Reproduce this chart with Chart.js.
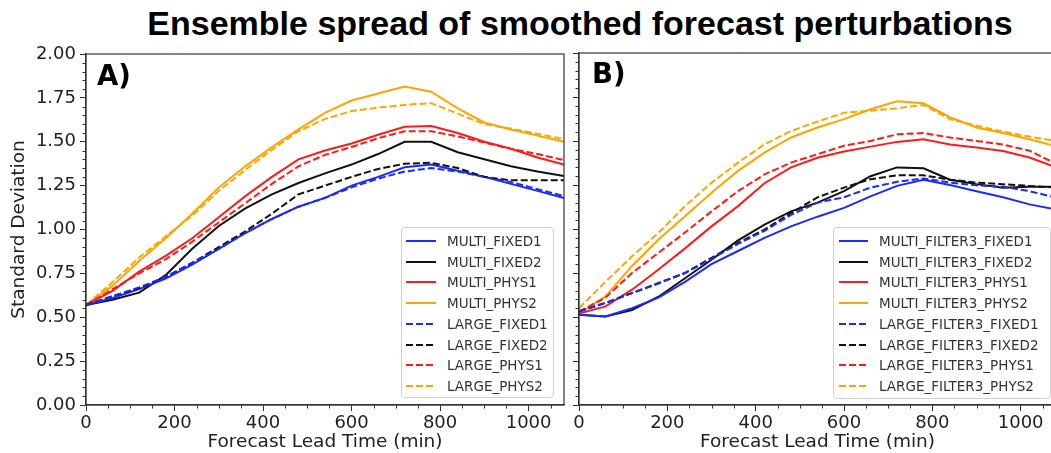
<!DOCTYPE html>
<html><head><meta charset="utf-8">
<script src="https://cdn.jsdelivr.net/npm/chart.js@4"></script>
<style>
html,body{margin:0;padding:0;width:1051px;height:453px;overflow:hidden;background:#fff;}
#title{position:absolute;left:80px;width:1000px;top:6px;text-align:center;font:bold 34px "Liberation Sans",Arial,sans-serif;line-height:34px;color:#000;white-space:nowrap;}
.wrap{position:absolute;top:0;}
.legend{position:absolute;border:1px solid #d0d0d0;border-radius:4px;background:rgba(255,255,255,0.85);font:13.5px "DejaVu Sans",sans-serif;color:#333;box-sizing:border-box;}
.legend .row{position:absolute;height:20px;line-height:20px;white-space:nowrap;}
.legend svg{position:absolute;top:0;}
</style></head><body>
<div id="title">Ensemble spread of smoothed forecast perturbations</div>
<div class="wrap" style="left:0;width:570px;height:453px"><canvas id="cA" width="570" height="453"></canvas></div>
<div class="wrap" style="left:570px;width:490px;height:453px"><canvas id="cB" width="490" height="453"></canvas></div>
<div id="legA" class="legend"></div>
<div id="legB" class="legend"></div>
<script>
// ---- data ----
const times = [0,60,120,180,240,300,360,420,480,540,600,660,720,780,840,900,960,1020,1080];
const xTickValues = [0,200,400,600,800,1000];
const yTickValues = [0,0.25,0.5,0.75,1.0,1.25,1.5,1.75,2.0];

const labelsA = ['MULTI_FIXED1','MULTI_FIXED2','MULTI_PHYS1','MULTI_PHYS2','LARGE_FIXED1','LARGE_FIXED2','LARGE_PHYS1','LARGE_PHYS2'];
const labelsB = ['MULTI_FILTER3_FIXED1','MULTI_FILTER3_FIXED2','MULTI_FILTER3_PHYS1','MULTI_FILTER3_PHYS2','LARGE_FILTER3_FIXED1','LARGE_FILTER3_FIXED2','LARGE_FILTER3_PHYS1','LARGE_FILTER3_PHYS2'];

// Panel A
const multiFixed1A = [0.57,0.61,0.66,0.72,0.80,0.89,0.98,1.06,1.13,1.18,1.25,1.30,1.355,1.37,1.335,1.30,1.26,1.22,1.18];
const multiFixed2A = [0.57,0.60,0.64,0.74,0.89,1.02,1.12,1.20,1.265,1.32,1.37,1.43,1.50,1.50,1.44,1.40,1.36,1.33,1.305];
const multiPhys1A  = [0.57,0.65,0.76,0.85,0.95,1.07,1.19,1.30,1.40,1.45,1.49,1.54,1.585,1.59,1.55,1.50,1.46,1.41,1.37];
const multiPhys2A  = [0.57,0.68,0.82,0.95,1.09,1.24,1.36,1.47,1.57,1.665,1.735,1.775,1.815,1.785,1.69,1.61,1.57,1.535,1.50];
const largeFixed1A = [0.57,0.62,0.67,0.73,0.81,0.89,0.98,1.06,1.13,1.18,1.24,1.29,1.33,1.35,1.33,1.30,1.27,1.23,1.19];
const largeFixed2A = [0.57,0.62,0.665,0.73,0.81,0.90,0.99,1.09,1.20,1.25,1.30,1.345,1.375,1.38,1.35,1.30,1.28,1.28,1.28];
const largePhys1A  = [0.57,0.66,0.75,0.83,0.93,1.04,1.15,1.26,1.36,1.425,1.47,1.52,1.56,1.56,1.53,1.495,1.46,1.43,1.395];
const largePhys2A  = [0.57,0.70,0.84,0.96,1.08,1.22,1.34,1.455,1.56,1.63,1.675,1.695,1.71,1.72,1.66,1.60,1.575,1.545,1.515];

// Panel B
const multiFixed1B = [0.513,0.503,0.55,0.61,0.70,0.80,0.875,0.95,1.015,1.07,1.12,1.185,1.245,1.28,1.25,1.215,1.18,1.14,1.11];
const multiFixed2B = [0.513,0.503,0.54,0.615,0.72,0.825,0.935,1.025,1.10,1.15,1.215,1.30,1.35,1.345,1.28,1.255,1.235,1.24,1.24];
const multiPhys1B  = [0.52,0.56,0.655,0.77,0.89,1.015,1.13,1.26,1.35,1.405,1.44,1.468,1.495,1.51,1.48,1.463,1.443,1.406,1.35];
const multiPhys2B  = [0.52,0.617,0.79,0.94,1.073,1.206,1.33,1.434,1.52,1.577,1.624,1.68,1.726,1.714,1.635,1.577,1.545,1.51,1.47];
const largeFixed1B = [0.532,0.58,0.636,0.69,0.75,0.83,0.915,0.99,1.08,1.15,1.18,1.235,1.268,1.287,1.264,1.248,1.24,1.215,1.178];
const largeFixed2B = [0.532,0.58,0.636,0.693,0.75,0.836,0.921,0.997,1.09,1.18,1.235,1.283,1.305,1.305,1.28,1.264,1.254,1.245,1.235];
const largePhys1B  = [0.53,0.61,0.75,0.865,0.98,1.10,1.215,1.31,1.377,1.425,1.473,1.50,1.538,1.545,1.52,1.50,1.48,1.445,1.37];
const largePhys2B  = [0.55,0.70,0.845,0.978,1.13,1.263,1.377,1.481,1.557,1.61,1.66,1.672,1.686,1.705,1.624,1.587,1.553,1.525,1.50];

// ---- styles ----
const colors = ['#1a2bff','#111111','#ff1a1a','#ffa500','#1a2bff','#111111','#ff1a1a','#ffa500'];
const DASH = [7,3];

function makeDatasets(labels, series) {
  return series.map((s, i) => ({
    label: labels[i],
    data: s.map((v, j) => ({x: times[j], y: v})),
    borderColor: colors[i],
    backgroundColor: colors[i],
    borderWidth: 2,
    borderDash: i >= 4 ? DASH : [],
    pointRadius: 0,
    tension: 0,
    fill: false,
    order: i >= 4 ? 0 : 1
  }));
}

function framePlugin(letter, lx, ly) {
  return {
    id: 'frame',
    afterDraw(chart) {
      const {ctx, chartArea: a, scales: {x, y}} = chart;
      ctx.save();
      ctx.strokeStyle = '#333'; ctx.lineWidth = 1.2;
      ctx.strokeRect(a.left, a.top, a.right - a.left, a.bottom - a.top);
      ctx.lineWidth = 1;
      ctx.beginPath();
      for (let k = 0; k <= 40; k++) {
        if (k % 5 === 0) continue;
        const py = Math.round(y.getPixelForValue(k * 0.05)) + 0.5;
        ctx.moveTo(a.left - 3.5, py); ctx.lineTo(a.left, py);
      }
      for (let k = 0; k <= 21; k++) {
        if (k % 4 === 0) continue;
        const px = Math.round(x.getPixelForValue(k * 50)) + 0.5;
        ctx.moveTo(px, a.bottom); ctx.lineTo(px, a.bottom + 3.5);
      }
      ctx.stroke();
      ctx.font = 'bold 27.5px "DejaVu Sans"';
      ctx.fillStyle = '#000';
      ctx.textBaseline = 'alphabetic';
      ctx.fillText(letter, a.left + lx, a.top + ly);
      ctx.restore();
    }
  };
}

function makeChart(id, labels, series, cfg) {
  return new Chart(document.getElementById(id), {
    type: 'line',
    data: { datasets: makeDatasets(labels, series) },
    options: {
      responsive: false,
      animation: false,
      devicePixelRatio: 1,
      layout: { padding: { left: 0, right: cfg.padRight, top: cfg.padTop, bottom: 0 } },
      plugins: { legend: { display: false }, tooltip: { enabled: false } },
      scales: {
        x: {
          type: 'linear', min: 0, max: 1080,
          afterBuildTicks: s => { s.ticks = xTickValues.map(v => ({value: v})); },
          afterFit: s => { s.height = 48; },
          ticks: { autoSkip: false, maxRotation: 0, padding: 2, color: '#222',
                   font: { family: 'DejaVu Sans', size: 18 },
                   callback: v => String(v) },
          grid: { drawOnChartArea: false, drawTicks: true, tickLength: 6, tickColor: '#333', tickWidth: 1 },
          border: { display: true, color: '#333', width: 1.2 },
          title: { display: true, text: 'Forecast Lead Time (min)', color: '#222',
                   font: { family: 'DejaVu Sans', size: 18.5 }, padding: { top: 0, bottom: 0 } }
        },
        y: {
          type: 'linear', min: 0, max: 2,
          afterBuildTicks: s => { s.ticks = yTickValues.map(v => ({value: v})); },
          afterFit: s => { s.width = cfg.yWidth; },
          ticks: { autoSkip: false, padding: 4, color: '#222',
                   font: { family: 'DejaVu Sans', size: 18 },
                   callback: v => cfg.yLabels ? v.toFixed(2) : '' },
          grid: { drawOnChartArea: false, drawTicks: true, tickLength: 6, tickColor: '#333', tickWidth: 1 },
          border: { display: true, color: '#333', width: 1.2 },
          title: { display: cfg.yLabels, text: 'Standard Deviation', color: '#222',
                   font: { family: 'DejaVu Sans', size: 18.5 }, padding: { top: 8, bottom: 0 } }
        }
      }
    },
    plugins: [framePlugin(cfg.letter, cfg.lx, cfg.ly)]
  });
}

const chartA = makeChart('cA', labelsA,
  [multiFixed1A, multiFixed2A, multiPhys1A, multiPhys2A, largeFixed1A, largeFixed2A, largePhys1A, largePhys2A],
  { padRight: 6, padTop: 54, yWidth: 86, yLabels: true, letter: 'A)', lx: 11, ly: 31 });
const chartB = makeChart('cB', labelsB,
  [multiFixed1B, multiFixed2B, multiPhys1B, multiPhys2B, largeFixed1B, largeFixed2B, largePhys1B, largePhys2B],
  { padRight: 4, padTop: 53, yWidth: 9, yLabels: false, letter: 'B)', lx: 13, ly: 30 });

function buildLegend(elId, chart, box, sampleX, sampleW, textX) {
  const el = document.getElementById(elId);
  el.style.left = box.left + 'px'; el.style.top = box.top + 'px';
  el.style.width = box.width + 'px'; el.style.height = box.height + 'px';
  chart.data.datasets.forEach((ds, i) => {
    const row = document.createElement('div');
    row.className = 'row';
    row.style.top = (box.rowTop + i * 20.7) + 'px';
    row.style.left = '0px';
    row.style.width = box.width + 'px';
    const dash = ds.borderDash.length ? ds.borderDash.join(',') : 'none';
    row.innerHTML = '<svg width="' + (sampleW + 2) + '" height="20" style="left:' + sampleX + 'px">' +
      '<line x1="0" y1="10" x2="' + sampleW + '" y2="10" stroke="' + ds.borderColor + '" stroke-width="2" stroke-dasharray="' + dash + '"/></svg>' +
      '<span style="position:absolute;left:' + textX + 'px">' + ds.label + '</span>';
    el.appendChild(row);
  });
}
buildLegend('legA', chartA, {left: 401, top: 227, width: 153, height: 171, rowTop: 3}, 4, 30, 45);
buildLegend('legB', chartB, {left: 833, top: 227, width: 218, height: 172, rowTop: 3}, 5, 29, 45);
</script>
</body></html>
